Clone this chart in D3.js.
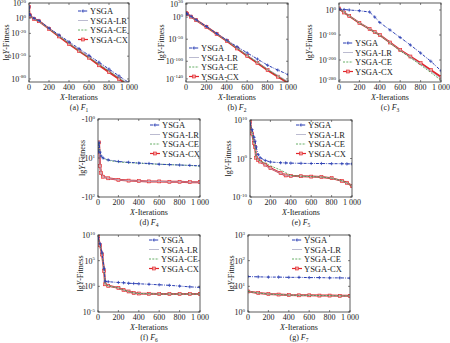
<!DOCTYPE html>
<html>
<head>
<meta charset="utf-8">
<script src="https://cdn.jsdelivr.net/npm/d3@7"></script>
<style>
  body { margin: 0; background: #fff; }
  svg { font-family: "Liberation Serif", "DejaVu Serif", serif; }
</style>
</head>
<body>
<script>
// convergence curves, values are log10 of fitness
var seriesNames = ['YSGA', 'YSGA-LR', 'YSGA-CE', 'YSGA-CX'];
var xTicks = [0, 200, 400, 600, 800, 1000];
var xTickLabels = ['0', '200', '400', '600', '800', '1 000'];

var f1Iter = [0, 5, 10, 50, 100, 200, 300, 400, 500, 600, 700, 800, 900, 1000];
var f1YSGA = [15, 5, 4, 0, -3, -13, -22, -31, -40, -49, -58, -67, -76, -85];
var f1LR   = [15, 4, 3, -1, -4, -14, -23, -33, -42, -51, -60, -69, -78, -87];
var f1CE   = [15, 4, 3, -1, -4, -14, -24, -33, -43, -52, -61, -70, -79, -88];
var f1CX   = [15, 4, 3, -1, -4, -14, -24, -34, -43, -52, -62, -71, -80, -89];

var f2Iter = [0, 5, 10, 50, 100, 200, 300, 400, 500, 600, 700, 800, 900, 1000];
var f2YSGA = [9, 8, 7, 2, -6, -21, -37, -52, -67, -81, -95, -109, -120, -130];
var f2LR   = [9, 8, 7, 1, -7, -22, -38, -53, -70, -86, -102, -118, -132, -146];
var f2CE   = [9, 8, 7, 1, -7, -22, -38, -54, -71, -87, -103, -119, -134, -148];
var f2CX   = [9, 8, 7, 1, -7, -22, -38, -54, -71, -88, -104, -120, -135, -149];

var f3Iter = [0, 50, 100, 200, 300, 350, 400, 500, 600, 700, 800, 900, 1000];
var f3YSGA = [4, 2, 0, -3, -8, -28, -50, -80, -110, -140, -172, -205, -243];
var f3LR   = [6, -9, -23, -51, -76, -88, -100, -131, -161, -188, -216, -245, -274];
var f3CE   = [6, -10, -24, -52, -77, -89, -101, -132, -163, -191, -220, -250, -281];
var f3CX   = [6, -10, -24, -52, -76, -88, -100, -130, -160, -186, -212, -240, -268];

// F4 axis runs over -10^0 .. -10^2, values are the exponent of -y
var f4Iter = [0, 10, 20, 30, 50, 100, 200, 300, 400, 500, 600, 700, 800, 900, 1000];
var f4YSGA = [0.85, 0.6, 0.85, 0.95, 1.0, 1.05, 1.09, 1.11, 1.13, 1.14, 1.16, 1.17, 1.18, 1.19, 1.2];
var f4LR   = [0.85, 0.6, 1.2, 1.38, 1.48, 1.52, 1.56, 1.58, 1.59, 1.6, 1.6, 1.61, 1.61, 1.62, 1.62];
var f4CE   = [0.85, 0.6, 0.86, 0.96, 1.01, 1.06, 1.1, 1.12, 1.13, 1.15, 1.16, 1.17, 1.18, 1.19, 1.21];
var f4CX   = [0.85, 0.6, 1.2, 1.38, 1.48, 1.52, 1.56, 1.58, 1.59, 1.6, 1.6, 1.61, 1.61, 1.62, 1.62];

var f5Iter = [0, 20, 40, 50, 60, 80, 100, 150, 200, 300, 350, 400, 500, 600, 700, 800, 900, 950, 1000];
var f5YSGA = [9.2, 7.5, 5.5, 4.5, 3, 1, 0.2, -0.5, -0.9, -1.1, -1.15, -1.2, -1.25, -1.3, -1.3, -1.35, -1.35, -1.4, -1.4];
var f5LR   = [9.5, 6.6, 4.1, 3.1, 0.3, -0.4, -0.8, -1.7, -2.6, -3.8, -4.4, -4.5, -4.6, -4.7, -4.8, -5.1, -5.8, -6.4, -7.0];
var f5CE   = [9.5, 6.5, 4, 3, 0.2, -0.3, -0.6, -1.2, -1.9, -3.0, -3.7, -4.4, -4.6, -4.7, -4.8, -5.1, -5.8, -6.3, -7.2];
var f5CX   = [9.5, 6.5, 4, 3, 0.2, -0.4, -0.8, -1.6, -2.5, -3.8, -4.4, -4.5, -4.6, -4.7, -4.8, -5.1, -5.8, -6.3, -7.1];

var f6Iter = [0, 20, 40, 60, 70, 100, 200, 250, 300, 350, 400, 500, 600, 700, 800, 900, 1000];
var f6YSGA = [9.5, 8.3, 6.5, 3.5, 1, 0.9, 0.75, 0.7, 0.6, 0.55, 0.5, 0.4, 0.3, 0.2, 0.05, -0.1, -0.2];
var f6LR   = [9.7, 8, 6.2, 3, 0.4, 0.1, -0.3, -0.7, -1.0, -1.3, -1.4, -1.45, -1.5, -1.5, -1.5, -1.5, -1.5];
var f6CE   = [9.7, 8, 6.2, 3, 0.4, 0.1, -0.3, -0.7, -1.0, -1.3, -1.4, -1.45, -1.5, -1.5, -1.5, -1.5, -1.5];
var f6CX   = [9.7, 8, 6.2, 3, 0.4, 0.1, -0.3, -0.7, -1.0, -1.3, -1.4, -1.45, -1.5, -1.5, -1.5, -1.5, -1.5];

var f7Iter = [0, 100, 200, 300, 400, 500, 600, 700, 800, 900, 1000];
var f7YSGA = [1.38, 1.37, 1.36, 1.36, 1.35, 1.35, 1.34, 1.34, 1.33, 1.33, 1.32];
var f7LR   = [0.8, 0.74, 0.7, 0.68, 0.66, 0.65, 0.65, 0.64, 0.64, 0.63, 0.63];
var f7CE   = [0.8, 0.74, 0.7, 0.68, 0.66, 0.65, 0.65, 0.64, 0.64, 0.63, 0.63];
var f7CX   = [0.8, 0.74, 0.7, 0.68, 0.66, 0.65, 0.65, 0.64, 0.64, 0.63, 0.63];

var styles = [
  { color: '#2b3fb4', width: 1, dash: '3,1.2,0.8,1.2', marker: 'plus' },
  { color: '#a9a9c4', width: 0.8, dash: null, marker: null },
  { color: '#3f9a3f', width: 0.8, dash: '2,1.3', marker: null },
  { color: '#e2262b', width: 2, dash: null, marker: 'square' }
];
var drawOrder = [3, 1, 2, 0];

var panels = [
  { id: 'a', fn: '1', iter: f1Iter, ys: [f1YSGA, f1LR, f1CE, f1CX], l: 29, r: 129, t: 3, b: 82,
    dom: [-84, 20], ticks: [20, 0, -20, -50, -80], ylx: 6, leg: [78, 11], row: 0 },
  { id: 'b', fn: '2', iter: f2Iter, ys: [f2YSGA, f2LR, f2CE, f2CX], l: 186, r: 288, t: 3, b: 82,
    dom: [-147, 32], ticks: [30, 0, -50, -100, -140], ylx: 161, leg: [189, 48], row: 0 },
  { id: 'c', fn: '3', iter: f3Iter, ys: [f3YSGA, f3LR, f3CE, f3CX], l: 339, r: 441, t: 3, b: 82,
    dom: [-288, 28], ticks: [0, -100, -200, -280], ylx: 309, leg: [343, 43], row: 0 },
  { id: 'd', fn: '4', iter: f4Iter, ys: [f4YSGA, f4LR, f4CE, f4CX], l: 98, r: 200, t: 119, b: 197,
    dom: [2, 0], ticks: [0, 1, 2], neg: true, ylx: 82, leg: [150, 125], row: 1 },
  { id: 'e', fn: '5', iter: f5Iter, ys: [f5YSGA, f5LR, f5CE, f5CX], l: 250, r: 352, t: 120, b: 197,
    dom: [-10, 10], ticks: [10, 0, -10], ylx: 228, leg: [296, 125], row: 1 },
  { id: 'f', fn: '6', iter: f6Iter, ys: [f6YSGA, f6LR, f6CE, f6CX], l: 98, r: 200, t: 235, b: 312,
    dom: [-5, 10], ticks: [10, 5, 0, -5], ylx: 80, leg: [149, 240], row: 2 },
  { id: 'g', fn: '7', iter: f7Iter, ys: [f7YSGA, f7LR, f7CE, f7CX], l: 248, r: 350, t: 235, b: 312,
    dom: [0, 3], ticks: [3, 2, 1, 0], ylx: 231, leg: [292, 240], row: 2 }
];
var rowText = [[90, 100, 110], [205, 215, 225], [320, 330, 340]];

var svg = d3.select('body').append('svg')
    .attr('width', 450)
    .attr('height', 343);

function drawMarker(g, kind, x, y, color) {
  if (kind === 'plus') {
    g.append('path')
      .attr('d', 'M' + (x - 1.6) + ',' + y + 'h3.2M' + x + ',' + (y - 1.6) + 'v3.2')
      .attr('stroke', color).attr('stroke-width', 0.8).attr('fill', 'none');
  } else if (kind === 'square') {
    g.append('rect')
      .attr('x', x - 1.5).attr('y', y - 1.5).attr('width', 3).attr('height', 3)
      .attr('fill', '#f4a0a0').attr('stroke', color).attr('stroke-width', 0.6);
  }
}

panels.forEach(function(p) {
  var x = d3.scaleLinear().domain([0, 1000]).range([p.l, p.r]);
  var y = d3.scaleLinear().domain(p.dom).range([p.b, p.t]);
  var g = svg.append('g');
  var txt = rowText[p.row];

  g.append('clipPath').attr('id', 'clip-' + p.id)
    .append('rect').attr('x', p.l).attr('y', p.t)
    .attr('width', p.r - p.l).attr('height', p.b - p.t);

  var lines = g.append('g').attr('clip-path', 'url(#clip-' + p.id + ')');
  var line = d3.line().x(function(d) { return x(d[0]); }).y(function(d) { return y(d[1]); });

  drawOrder.forEach(function(k) {
    var st = styles[k];
    var pts = p.iter.map(function(it, i) { return [it, p.ys[k][i]]; });
    lines.append('path')
      .attr('d', line(pts))
      .attr('fill', 'none')
      .attr('stroke', st.color)
      .attr('stroke-width', st.width)
      .attr('stroke-dasharray', st.dash);
    if (st.marker) {
      pts.forEach(function(d) { drawMarker(lines, st.marker, x(d[0]), y(d[1]), st.color); });
    }
  });

  // frame and inward ticks
  g.append('rect').attr('x', p.l).attr('y', p.t)
    .attr('width', p.r - p.l).attr('height', p.b - p.t)
    .attr('fill', 'none').attr('stroke', '#333').attr('stroke-width', 0.8);

  xTicks.forEach(function(v, i) {
    g.append('line').attr('x1', x(v)).attr('x2', x(v)).attr('y1', p.b).attr('y2', p.b - 2)
      .attr('stroke', '#333').attr('stroke-width', 0.6);
    g.append('line').attr('x1', x(v)).attr('x2', x(v)).attr('y1', p.t).attr('y2', p.t + 2)
      .attr('stroke', '#333').attr('stroke-width', 0.6);
    g.append('text').attr('x', x(v)).attr('y', txt[0])
      .attr('text-anchor', 'middle').attr('font-size', 8).attr('fill', '#222')
      .text(xTickLabels[i]);
  });

  p.ticks.forEach(function(v) {
    g.append('line').attr('x1', p.l).attr('x2', p.l + 2).attr('y1', y(v)).attr('y2', y(v))
      .attr('stroke', '#333').attr('stroke-width', 0.6);
    g.append('line').attr('x1', p.r).attr('x2', p.r - 2).attr('y1', y(v)).attr('y2', y(v))
      .attr('stroke', '#333').attr('stroke-width', 0.6);
    var t = g.append('text').attr('x', p.l - 3).attr('y', y(v) + 3)
      .attr('text-anchor', 'end').attr('font-size', 8).attr('fill', '#222');
    t.append('tspan').text(p.neg ? '-10' : '10');
    t.append('tspan').attr('font-size', 5).attr('dy', -3.5).text(p.neg ? v : (v < 0 ? '-' + (-v) : v));
  });

  // axis titles
  var xl = g.append('text').attr('x', (p.l + p.r) / 2).attr('y', txt[1])
    .attr('text-anchor', 'middle').attr('font-size', 8).attr('fill', '#222');
  xl.append('tspan').attr('font-style', 'italic').text('X');
  xl.append('tspan').text('-Iterations');

  var yl = g.append('text')
    .attr('transform', 'translate(' + (p.ylx + 3) + ',' + ((p.t + p.b) / 2) + ') rotate(-90)')
    .attr('text-anchor', 'middle').attr('font-size', 8).attr('fill', '#222');
  yl.append('tspan').text('lg');
  yl.append('tspan').attr('font-style', 'italic').text('Y');
  yl.append('tspan').text('-Fitness');

  var cap = g.append('text').attr('x', (p.l + p.r) / 2).attr('y', txt[2])
    .attr('text-anchor', 'middle').attr('font-size', 8).attr('fill', '#222');
  cap.append('tspan').text('(' + p.id + ') ');
  cap.append('tspan').attr('font-style', 'italic').text('F');
  cap.append('tspan').attr('font-size', 5.5).attr('dy', 1.5).text(p.fn);

  // legend
  seriesNames.forEach(function(name, k) {
    var st = styles[k];
    var lx = p.leg[0], ly = p.leg[1] + k * 9.5;
    g.append('line').attr('x1', lx).attr('x2', lx + 10).attr('y1', ly).attr('y2', ly)
      .attr('stroke', st.color).attr('stroke-width', Math.min(st.width, 1.2))
      .attr('stroke-dasharray', st.dash);
    if (st.marker) drawMarker(g, st.marker, lx + 5, ly, st.color);
    g.append('text').attr('x', lx + 12).attr('y', ly + 3)
      .attr('font-size', 8.5).attr('fill', '#222').text(name);
  });
});
</script>
</body>
</html>
